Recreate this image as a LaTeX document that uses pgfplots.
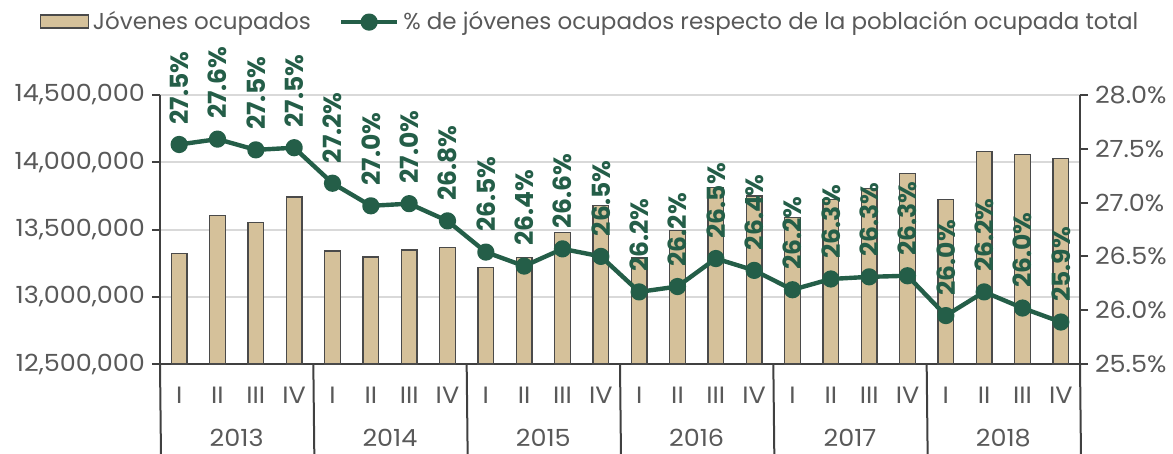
\documentclass[border=0pt]{standalone}
\usepackage{pgfplots}
\pgfplotsset{compat=1.18}
\usepackage{pgfplotstable}
\usepackage{fontspec}
\setmainfont{Poppins}
\newfontfamily\tickfont[FakeStretch=1.08]{Poppins}
\definecolor{tanc}{HTML}{D5C19A}
\definecolor{bardark}{HTML}{4A4A4A}
\definecolor{grn}{HTML}{245E48}
\definecolor{txt}{HTML}{595959}
\definecolor{axg}{HTML}{404040}
\pgfplotstableread{
x bar pct lab
0 13320000 27.54 27.5
1 13606000 27.59 27.6
2 13551000 27.49 27.5
3 13742000 27.51 27.5
4 13340000 27.18 27.2
5 13296000 26.97 27.0
6 13348000 26.99 27.0
7 13368000 26.83 26.8
8 13219000 26.54 26.5
9 13293000 26.41 26.4
10 13479000 26.57 26.6
11 13677000 26.50 26.5
12 13288000 26.17 26.2
13 13491000 26.22 26.2
14 13811000 26.48 26.5
15 13749000 26.37 26.4
16 13591000 26.19 26.2
17 13724000 26.29 26.3
18 13806000 26.31 26.3
19 13918000 26.32 26.3
20 13724000 25.95 26.0
21 14079000 26.17 26.2
22 14059000 26.02 26.0
23 14029000 25.89 25.9
}\datatable
\begin{document}
\begin{tikzpicture}[font=\tickfont\fontsize{11.8}{13}\selectfont]
\begin{axis}[name=main, scale only axis, width=460pt, height=134.5pt,
  xmin=-0.5, xmax=23.5, ymin=12500000, ymax=14500000,
  axis y line*=left, axis x line*=bottom,
  axis line style={draw=axg, line width=1pt},
  ytick={12500000,13000000,13500000,14000000,14500000},
  scaled y ticks=false,
  /pgf/number format/assume math mode=true,
  yticklabel style={/pgf/number format/.cd, fixed, 1000 sep={,}},
  ymajorgrids, grid style={draw=gray!30, line width=1pt},
  tick align=outside, major tick length=4pt,
  ytick style={draw=axg, line width=1pt},
  xtick={0,...,23},
  xticklabels={I,II,III,IV,I,II,III,IV,I,II,III,IV,I,II,III,IV,I,II,III,IV,I,II,III,IV},
  xtick style={draw=none},
  xticklabel style={yshift=-4pt},
  ticklabel style={text=txt},
  clip=false,
]
\addplot[ybar, bar width=7.8pt, fill=tanc, draw=bardark, line width=0.6pt] table[x=x, y=bar] {\datatable};
\foreach \yr/\xc in {2013/1.5,2014/5.5,2015/9.5,2016/13.5,2017/17.5,2018/21.5}{
  \edef\tmp{\noexpand\node[text=txt, inner sep=0pt] at (axis cs:\xc,12500000) [yshift=-36.8pt] {\yr};}\tmp
}
\foreach \xs in {-0.5,3.5,7.5,11.5,15.5,19.5,23.5}{
  \edef\tmp{\noexpand\draw[axg, line width=1pt] (axis cs:\xs,12500000) -- ++(0,-45pt);}\tmp
}
\end{axis}
\begin{axis}[at={(main.south west)}, anchor=south west, scale only axis, width=460pt, height=134.5pt,
  xmin=-0.5, xmax=23.5, ymin=25.5, ymax=28.0,
  axis y line*=right, axis x line=none,
  axis line style={draw=axg, line width=1pt},
  ytick={25.5,26,26.5,27,27.5,28},
  /pgf/number format/assume math mode=true,
  yticklabel={\pgfmathprintnumber[fixed,fixed zerofill,precision=1]{\tick}\%},
  tick align=outside, major tick length=4pt,
  ytick style={draw=axg, line width=1pt},
  ticklabel style={text=txt},
  clip=false,
  legend style={at={(0.4685,1.271)}, anchor=center, draw=none, fill=none, legend columns=2,
    /tikz/every even column/.append style={column sep=12pt}, font=\fontsize{11.5}{13}\selectfont, text=txt,
    inner sep=0pt},
]
\addlegendimage{legend image code/.code={\draw[fill=tanc, draw=bardark, line width=0.6pt] (-4pt,-0.3em) rectangle (20pt,0.35em);}}
\addlegendentry{Jóvenes ocupados}
\addplot[grn, line width=2.2pt, line join=round, mark=*, mark size=3.2pt,
  mark options={fill=grn, draw=grn},
  point meta=explicit,
  nodes near coords={\pgfmathprintnumber[fixed,fixed zerofill,precision=1]{\pgfplotspointmeta}\%},
  every node near coord/.append style={rotate=90, anchor=west, inner xsep=9pt, text=grn,
    font=\bfseries\fontsize{12.5}{13}\selectfont},
  legend image code/.code={\draw[grn, line width=2.2pt] (-2pt,0pt) -- (26pt,0pt); \fill[grn] (12pt,0pt) circle (3.2pt);}
] table[x=x, y=pct, meta=lab] {\datatable};
\addlegendentry{\% de jóvenes ocupados respecto de la población ocupada total}
\end{axis}
\pgfresetboundingbox
\path[use as bounding box] ([shift={(-80pt,-45pt)}]main.south west) rectangle ([shift={(46.5pt,47.5pt)}]main.north east);
\end{tikzpicture}
\end{document}
